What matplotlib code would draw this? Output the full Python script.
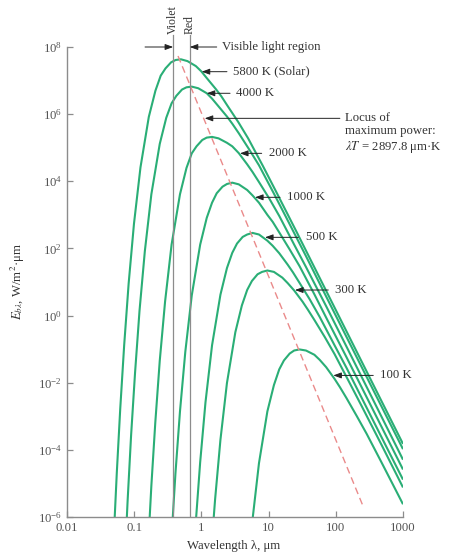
import matplotlib
matplotlib.use("Agg")
import matplotlib.pyplot as plt
from matplotlib.ticker import FixedLocator, NullLocator, LogFormatterMathtext

plt.rcParams['font.family'] = ['Liberation Serif', 'DejaVu Serif']
plt.rcParams['mathtext.fontset'] = 'stix'

# spectral emissive power, W/m2.um vs wavelength in um
lam_5800 = [0.0496, 0.0551, 0.0620, 0.0709, 0.0827, 0.0992, 0.124, 0.165, 0.207, 0.248, 0.292, 0.354, 0.413,
            0.496, 0.620, 0.827, 0.992, 1.24, 1.65, 1.98, 2.48, 3.54, 4.96, 8.27, 12.4, 24.8, 49.6, 1000]
E_5800 = [2.4e-7, 2.1e-5, 1.7e-3, 0.13, 9.1, 540, 2.6e4, 8.3e5, 5.0e6, 1.4e7, 2.3e7, 3.5e7, 4.1e7,
          4.3e7, 3.8e7, 2.7e7, 1.9e7, 1.1e7, 5.5e6, 3.4e6, 1.7e6, 5.8e5, 1.9e5, 2.8e4, 5.8e3, 380, 24, 1.5e-4]

lam_4000 = [0.0719, 0.0799, 0.0899, 0.103, 0.120, 0.144, 0.180, 0.240, 0.300, 0.360, 0.423, 0.514, 0.600,
            0.719, 0.899, 1.20, 1.44, 1.80, 2.40, 2.88, 3.60, 5.14, 7.19, 12.0, 18.0, 36.0, 71.9, 1000]
E_4000 = [3.7e-8, 3.2e-6, 2.7e-4, 0.020, 1.4, 83, 4.1e3, 1.3e5, 7.8e5, 2.1e6, 3.5e6, 5.4e6, 6.3e6,
          6.6e6, 5.9e6, 4.2e6, 2.9e6, 1.7e6, 8.5e5, 5.2e5, 2.7e5, 8.9e4, 3.0e4, 4.3e3, 890, 59, 3.7, 1.05e-4]

lam_2000 = [0.160, 0.180, 0.206, 0.240, 0.288, 0.360, 0.480, 0.600, 0.719, 0.846, 1.03, 1.20, 1.44,
            1.80, 2.40, 2.88, 3.60, 4.80, 5.76, 7.19, 10.3, 14.4, 24.0, 36.0, 71.9, 144, 1000]
E_2000 = [1.0e-7, 8.5e-6, 6.5e-4, 0.045, 2.6, 130, 4.1e3, 2.5e4, 6.8e4, 1.1e5, 1.7e5, 2.0e5, 2.1e5,
          1.9e5, 1.4e5, 1.1e5, 6.9e4, 3.2e4, 1.9e4, 9.5e3, 3.0e3, 930, 130, 28, 1.9, 0.12, 5.1e-5]

lam_1000 = [0.360, 0.411, 0.480, 0.576, 0.719, 0.959, 1.20, 1.44, 1.69, 2.06, 2.40, 2.88, 3.60,
            4.80, 5.76, 7.19, 9.59, 11.5, 14.4, 20.6, 28.8, 48.0, 71.9, 144, 288, 1000]
E_1000 = [2.6e-7, 2.0e-5, 1.4e-3, 0.083, 4.0, 130, 810, 2.3e3, 4.4e3, 6.9e3, 8.3e3, 9.1e3, 8.1e3,
          5.5e3, 3.8e3, 2.3e3, 1.0e3, 620, 300, 93, 30, 4.3, 0.87, 0.058, 3.7e-3, 2.6e-5]

lam_500 = [0.822, 0.959, 1.15, 1.44, 1.92, 2.40, 2.88, 3.39, 4.11, 4.80, 5.76, 7.19, 9.59,
           11.5, 14.4, 19.2, 23.0, 28.8, 41.1, 57.6, 95.9, 144, 288, 576, 1000]
E_500 = [6.3e-7, 4.3e-5, 2.6e-3, 0.13, 4.2, 26, 74, 140, 220, 260, 290, 260, 170,
         120, 72, 33, 19.5, 9.5, 3.0, 0.91, 0.13, 0.028, 1.8e-3, 1.15e-4, 1.3e-5]

lam_300 = [1.50, 1.60, 1.92, 2.40, 3.20, 4.00, 4.80, 5.64, 6.85, 7.99, 9.59, 12.0, 16.0,
           19.2, 24.0, 32.0, 38.4, 48.0, 68.5, 95.9, 160, 240, 480, 1000]
E_300 = [6.3e-7, 3.4e-6, 2.0e-4, 9.8e-3, 0.32, 2.0, 5.8, 10.7, 17, 20, 22, 20, 13.5,
         9.3, 5.6, 2.6, 1.5, 0.74, 0.23, 0.071, 0.010, 2.1e-3, 1.4e-4, 7.6e-6]

lam_100 = [5.76, 7.19, 9.59, 12.0, 14.4, 16.9, 20.6, 24.0, 28.8, 36.0, 48.0, 57.6, 71.9,
           95.9, 115, 144, 206, 288, 480, 719, 1000]
E_100 = [8.3e-7, 4.0e-5, 1.4e-3, 8.5e-3, 0.025, 0.046, 0.074, 0.091, 0.098, 0.091, 0.068, 0.048, 0.029,
         0.013, 7.4e-3, 3.5e-3, 1.0e-3, 3.0e-4, 4.2e-5, 8.7e-6, 2.4e-6]

# locus of maximum power (lambda*T = 2897.8 um.K), end points
lam_locus = [0.449, 254]
E_locus = [5.4e7, 2.12e-6]

# edges of the visible band
lam_violet = 0.38
lam_red = 0.67

curves = [(lam_5800, E_5800), (lam_4000, E_4000), (lam_2000, E_2000), (lam_1000, E_1000),
          (lam_500, E_500), (lam_300, E_300), (lam_100, E_100)]

# label text, arrow tip (lam, E), arrow tail lam, text lam
labels = [
    ('5800 K (Solar)', 1.01, 1.84e7, 2.40, 2.95),
    ('4000 K', 1.20, 4.18e6, 2.67, 3.27),
    ('2000 K', 3.75, 6.8e4, 7.89, 10.2),
    ('1000 K', 6.28, 3.33e3, 14.8, 19.0),
    ('500 K', 8.84, 214, 27.7, 36.0),
    ('300 K', 24.7, 5.77, 77.3, 97.3),
    ('100 K', 91.8, 0.0165, 361, 455),
]

green = '#2aae76'
gray = '#8c8c8c'
txt = '#333333'

fig = plt.figure(figsize=(4.52, 5.57), dpi=100)
ax = fig.add_axes([67 / 452, 1 - 517 / 557, 336 / 452, 517 / 557])
ax.set_xscale('log')
ax.set_yscale('log')
ax.set_xlim(0.01, 1000)
ax.set_ylim(1e-6, 10 ** 9.4)

for lam, E in curves:
    ax.plot(lam, E, color=green, lw=1.5, solid_capstyle='butt')

ax.plot(lam_locus, E_locus, color='#ea8a8a', lw=1.0, dashes=(5, 3))

for lv, name in [(lam_violet, 'Violet'), (lam_red, 'Red')]:
    ax.plot([lv, lv], [1e-6, 2.3e8], color=gray, lw=0.9)
    ax.text(lv, 2.5e8, name, rotation=90, ha='center', va='bottom', fontsize=8.5, color=txt)

arrow = dict(arrowstyle='-|>,head_length=0.6,head_width=0.22', color='#222222', lw=0.7,
             shrinkA=0, shrinkB=0, mutation_scale=8)

# visible light region markers
ax.annotate('', xy=(lam_violet, 1e8), xytext=(0.145, 1e8), arrowprops=arrow)
ax.annotate('', xy=(lam_red, 1e8), xytext=(1.69, 1e8), arrowprops=arrow)
ax.text(2.0, 1e8, 'Visible light region', va='center', ha='left', fontsize=9.2, color=txt)

for name, tl, tE, tail, tx in labels:
    ax.annotate('', xy=(tl, tE), xytext=(tail, tE), arrowprops=arrow)
    ax.text(tx, tE, name, va='center', ha='left', fontsize=9.2, color=txt)

ax.annotate('', xy=(1.12, 7.5e5), xytext=(115, 7.5e5), arrowprops=arrow)
ax.text(137, 2.74e5, 'Locus of\nmaximum power:\n$\\lambda T$ = 2897.8 μm·K',
        va='center', ha='left', fontsize=9.2, color=txt, linespacing=1.15)

# axes styling
for s in ['top', 'right']:
    ax.spines[s].set_visible(False)
for s in ['left', 'bottom']:
    ax.spines[s].set_color(gray)
    ax.spines[s].set_linewidth(1.0)
ax.spines['left'].set_bounds(1e-6, 1e8)

ax.xaxis.set_major_locator(FixedLocator([0.01, 0.1, 1, 10, 100, 1000]))
ax.set_xticklabels(['0.01', '0.1', '1', '10', '100', '1000'])
ax.xaxis.set_minor_locator(NullLocator())
ax.yaxis.set_major_locator(FixedLocator([1e-6, 1e-4, 1e-2, 1, 1e2, 1e4, 1e6, 1e8]))
ax.yaxis.set_major_formatter(LogFormatterMathtext())
ax.yaxis.set_minor_locator(NullLocator())
ax.tick_params(direction='in', length=4, width=0.9, color=gray, labelcolor='#555555', labelsize=9.2)

ax.set_xlabel('Wavelength λ, μm', fontsize=9.2, color=txt)
ax.xaxis.set_label_coords(0.497, -0.045)
ax.set_ylabel('$E_{b\\lambda}$, W/m$^2$·μm', fontsize=9.2, color=txt)
ax.yaxis.set_label_coords(-0.118, 0.4545)

fig.savefig('out.png', dpi=100)
